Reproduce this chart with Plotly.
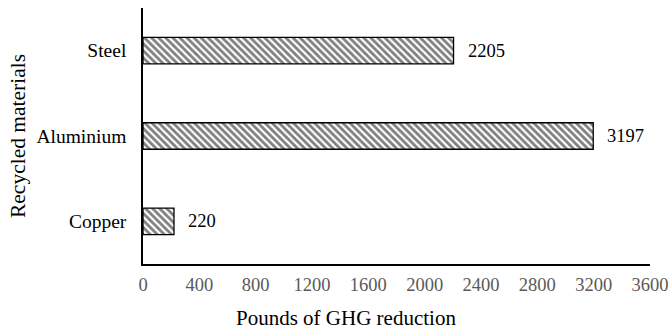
import plotly.graph_objects as go

categories = ["Copper", "Aluminium", "Steel"]
values = [220, 3197, 2205]
x_ticks = [0, 400, 800, 1200, 1600, 2000, 2400, 2800, 3200, 3600]
x_title = "Pounds of GHG reduction"
y_title = "Recycled materials"

FONT = "Liberation Serif, Times New Roman, serif"

fig = go.Figure(go.Bar(
    y=categories, x=values, orientation="h",
    width=0.31,
    marker=dict(color="white",
                line=dict(color="black", width=1.3),
                pattern=dict(shape="\\", fgcolor="black", bgcolor="white", size=5, solidity=0.55)),
    hoverinfo="skip",
))

annotations = [
    dict(x=v, y=c, xref="x", yref="y", text=str(v), showarrow=False,
         xanchor="left", yanchor="middle", xshift=12,
         font=dict(family=FONT, size=18.5, color="black"))
    for c, v in zip(categories, values)
]
annotations += [
    dict(text=x_title, xref="paper", yref="paper", x=0.40, y=-0.211, yanchor="middle",
         xanchor="center", showarrow=False, font=dict(family=FONT, size=21, color="black")),
    dict(text=y_title, xref="paper", yref="paper", x=-0.2465, y=0.5, textangle=-90,
         xanchor="center", yanchor="middle", showarrow=False,
         font=dict(family=FONT, size=21.5, color="black")),
]

fig.update_layout(
    width=670, height=333,
    margin=dict(l=143, r=20, t=8, b=69, autoexpand=False),
    plot_bgcolor="white", paper_bgcolor="white",
    showlegend=False,
    font=dict(family=FONT, color="black"),
    xaxis=dict(range=[0, 3600], tickvals=x_ticks, ticktext=[str(t) for t in x_ticks],
               showgrid=False, zeroline=False, showline=True, linecolor="black", linewidth=1.5,
               tickfont=dict(family=FONT, size=18.5, color="#595959"), automargin=False,
               ticks="", ticklabelstandoff=3),
    yaxis=dict(showgrid=False, zeroline=False, showline=True, linecolor="black", linewidth=1.5,
               tickfont=dict(family=FONT, size=19.5, color="black"), ticks="", automargin=False,
               ticklabelstandoff=11, range=[-0.5, 2.5]),
    annotations=annotations,
)

fig.write_html("out.html")
